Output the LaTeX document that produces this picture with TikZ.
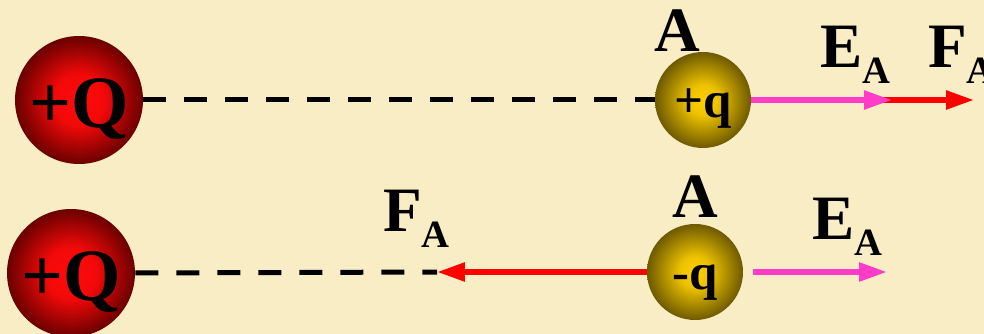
\documentclass[tikz,border=0pt]{standalone}
\usepackage{fontspec}
\setmainfont{Liberation Serif}
\usepackage{xcolor}
\usetikzlibrary{arrows.meta,positioning,calc}
\definecolor{cream}{HTML}{F9EDC6}
\definecolor{redcore}{HTML}{FF0A0A}
\definecolor{redrim}{HTML}{6A0000}
\definecolor{goldcore}{HTML}{FFD000}
\definecolor{goldrim}{HTML}{6E5A00}
\definecolor{pinkvec}{HTML}{FF3CC8}
\definecolor{redvec}{HTML}{FF0000}
\pgfdeclareradialshading{redball}{\pgfpoint{0bp}{0bp}}{color(0bp)=(redcore); color(10bp)=(redcore!92!redrim); color(25bp)=(redrim); color(50bp)=(redrim)}
\pgfdeclareradialshading{goldball}{\pgfpoint{0bp}{0bp}}{color(0bp)=(goldcore); color(8bp)=(goldcore!88!goldrim); color(25bp)=(goldrim); color(50bp)=(goldrim)}
\newcommand{\vlab}[1]{#1\raisebox{-0.32cm}{\fontsize{22pt}{22pt}\selectfont A}}
\tikzset{
  >={Triangle[length=0.56cm,width=0.36cm]},
  bigQ/.style={circle,minimum size=2.56cm,inner sep=0pt,shading=redball,
    font=\fontsize{42pt}{42pt}\selectfont\bfseries,text height=1.12cm,text depth=0pt},
  smallq/.style={circle,minimum size=1.92cm,inner sep=0pt,shading=goldball,
    font=\fontsize{29pt}{29pt}\selectfont\bfseries,text height=0.72cm,text depth=0pt},
  lbl/.style={inner sep=0pt,font=\fontsize{36pt}{36pt}\selectfont\bfseries},
  fieldline/.style={line width=0.1cm,dash pattern=on 0.46cm off 0.36cm},
  evec/.style={->,line width=0.11cm,color=pinkvec},
  fvec/.style={->,line width=0.11cm,color=redvec},
}
\begin{document}
\begin{tikzpicture}[x=0.02cm,y=-0.02cm]
  \fill[cream] (0,0) rectangle (984,334);
  \useasboundingbox (0,0) rectangle (984,334);
  % top row: positive test charge
  \node[bigQ] (Qtop) at (79,100) {+Q};
  \node[smallq] (qpos) at (703,100) {+q};
  \node[lbl,anchor=base] (Atop) at (677,52) {A};
  \coordinate (etop) at (892,100);
  \coordinate (ftop) at (974,100);
  \draw[fieldline] (Qtop.east) -- (qpos.west);
  \draw[fvec] (qpos.east) -- (ftop);
  \draw[evec] (qpos.east) -- (etop);
  \node[lbl,anchor=base west] (Etop) at (820,68) {\vlab{E}};
  \node[lbl,anchor=base west] (Ftop) at (928,68) {\vlab{F}};
  % bottom row: negative test charge
  \node[bigQ] (Qbot) at (71,273) {+Q};
  \node[smallq] (qneg) at (695,272) {-q};
  \node[lbl,above=0.12cm of qneg] (Abot) {A};
  \coordinate (fbot) at (437,272);
  \coordinate (ebot) at (887,272);
  \draw[fieldline] (Qbot.east) -- (fbot);
  \draw[fvec] (qneg.west) -- (fbot);
  \draw[evec] ([xshift=0.2cm]qneg.east) -- (ebot);
  \node[lbl,anchor=base west] (Fbot) at (383,232) {\vlab{F}};
  \node[lbl,anchor=base west] (Ebot) at (812,240) {\vlab{E}};
\end{tikzpicture}
\end{document}
